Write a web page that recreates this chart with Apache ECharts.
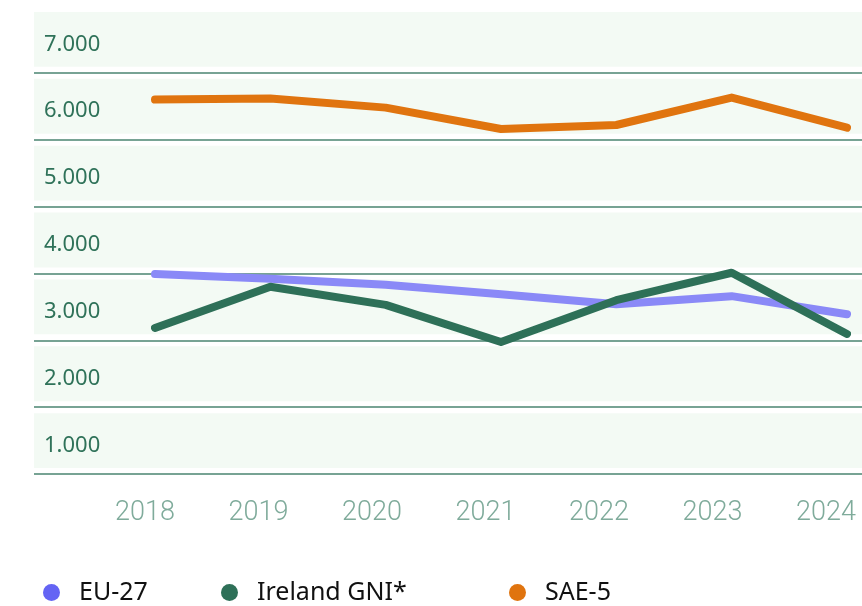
<!DOCTYPE html>
<html>
<head>
<meta charset="utf-8">
<script src="https://cdn.jsdelivr.net/npm/echarts@6/dist/echarts.min.js"></script>
<style>html,body{margin:0;padding:0;background:#fff}#c{width:862px;height:606px}</style>
</head>
<body>
<div id="c"></div>
<script>
const years = ['2018','2019','2020','2021','2022','2023','2024'];
const eu27 = [3990, 3920, 3830, 3690, 3540, 3660, 3390];
const irelandGNI = [3185, 3800, 3530, 2975, 3600, 4010, 3095];
const sae5 = [6600, 6615, 6480, 6160, 6220, 6630, 6180];
const yMin = 1000, yMax = 8000, yStep = 1000;

const chart = echarts.init(document.getElementById('c'));
const green = '#2f7259';
const fmt = v => (v / 1000).toFixed(3);

// light bands between gridlines, with a small white gap around each line
const bandGap = 90;
const bands = [];
for (let v = yMin; v < yMax; v += yStep) {
  bands.push([{ yAxis: v + bandGap }, { yAxis: v + yStep - bandGap }]);
}

const legendBase = {
  icon: 'circle', itemWidth: 17, itemHeight: 17, top: 580, padding: 0,
  textStyle: { fontFamily: 'Noto Sans', fontSize: 25, color: '#111', padding: [0, 0, 0, 14] },
  selectedMode: false
};

chart.setOption({
  animation: false,
  backgroundColor: '#fff',
  legend: [
    Object.assign({}, legendBase, { left: 43, data: ['EU-27'] }),
    Object.assign({}, legendBase, { left: 221, data: ['Ireland GNI*'] }),
    Object.assign({}, legendBase, { left: 509, data: ['SAE-5'] })
  ],
  grid: [
    { left: 34, right: 0, top: 6, bottom: 132 },
    { left: 155, right: 15, top: 6, bottom: 132 },
    { left: 145, right: 36, top: 6, bottom: 132 }
  ],
  xAxis: [
    { gridIndex: 0, type: 'value', show: false, min: 0, max: 1 },
    { gridIndex: 1, type: 'category', data: years, boundaryGap: false, show: false },
    { gridIndex: 2, type: 'category', data: years, boundaryGap: false,
      axisLine: { show: false }, axisTick: { show: false }, splitLine: { show: false },
      axisLabel: { margin: 26, fontFamily: 'Roboto', fontWeight: 300, fontSize: 27, color: '#7fab9b' } }
  ],
  yAxis: [
    { gridIndex: 0, type: 'value', min: yMin, max: yMax, interval: yStep, position: 'left', z: 1,
      axisLine: { show: false }, axisTick: { show: false },
      splitLine: { show: true, showMaxLine: false, lineStyle: { color: '#4a8470', width: 1.5 } },
      axisLabel: { show: true, inside: true, margin: 10, showMaxLabel: false, verticalAlign: 'bottom',
        lineHeight: 57, fontFamily: 'Noto Sans', fontSize: 22, color: green,
        formatter: v => v >= yMax ? '' : fmt(v) } },
    { gridIndex: 1, type: 'value', min: yMin, max: yMax, show: false },
    { gridIndex: 2, type: 'value', min: yMin, max: yMax, show: false }
  ],
  series: [
    { name: 'bands', type: 'line', xAxisIndex: 0, yAxisIndex: 0, data: [], silent: true, z: 0,
      markArea: { silent: true, z: 0, itemStyle: { color: '#f3faf4' }, data: bands } },
    { name: 'EU-27', type: 'line', xAxisIndex: 1, yAxisIndex: 1, data: eu27, symbol: 'none',
      itemStyle: { color: '#6464f4' },
      lineStyle: { color: '#8a89f7', width: 8, cap: 'round', join: 'round' } },
    { name: 'Ireland GNI*', type: 'line', xAxisIndex: 1, yAxisIndex: 1, data: irelandGNI, symbol: 'none',
      itemStyle: { color: '#2e7058' },
      lineStyle: { color: '#2e7058', width: 8, cap: 'round', join: 'round' } },
    { name: 'SAE-5', type: 'line', xAxisIndex: 1, yAxisIndex: 1, data: sae5, symbol: 'none',
      itemStyle: { color: '#e0740f' },
      lineStyle: { color: '#e0740f', width: 8, cap: 'round', join: 'round' } }
  ]
});
</script>
</body>
</html>
